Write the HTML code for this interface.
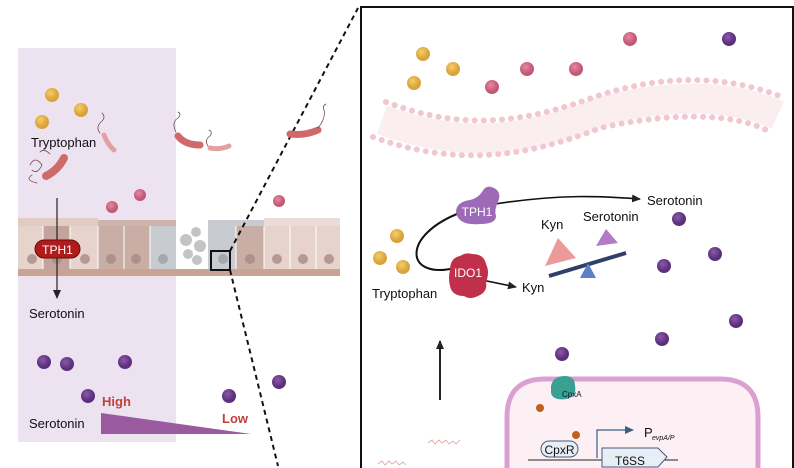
<!DOCTYPE html>
<html><head><meta charset="utf-8"><style>
html,body{margin:0;padding:0;background:#fff;width:794px;height:468px;overflow:hidden}
svg{display:block}
text{font-family:"Liberation Sans",sans-serif}
</style></head><body>
<svg width="794" height="468" viewBox="0 0 794 468">
<defs>
<radialGradient id="py" cx="40%" cy="35%"><stop offset="0" stop-color="#f4cf6a"/><stop offset="1" stop-color="#d9a23a"/></radialGradient>
<radialGradient id="pp" cx="40%" cy="35%"><stop offset="0" stop-color="#8a5aa8"/><stop offset="1" stop-color="#5b2f7c"/></radialGradient>
<radialGradient id="pk" cx="40%" cy="35%"><stop offset="0" stop-color="#e8889e"/><stop offset="1" stop-color="#c05878"/></radialGradient>
<marker id="ah" markerUnits="userSpaceOnUse" markerWidth="9" markerHeight="8" refX="8" refY="4" orient="auto"><path d="M0,0 L9,4 L0,8 z" fill="#222"/></marker>
<marker id="ahb" markerUnits="userSpaceOnUse" markerWidth="9" markerHeight="8" refX="8" refY="4" orient="auto"><path d="M0,0 L9,4 L0,8 z" fill="#3a5f86"/></marker>
</defs>
<rect x="18" y="48" width="158" height="394" fill="#ece2f0"/>
<g>
<rect x="18" y="226" width="322" height="44" fill="#e6d4cc"/>
<rect x="98" y="226" width="52" height="44" fill="#c9aea5"/>
<rect x="150" y="226" width="26" height="44" fill="#c8ccd0"/>
<rect x="176" y="226" width="32" height="44" fill="#fff"/>
<rect x="208" y="226" width="28" height="44" fill="#c8ccd0"/>
<rect x="236" y="226" width="28" height="44" fill="#c9aea5"/>
<rect x="43" y="226" width="27" height="44" fill="#c4a49a"/>
<g stroke="#fff" stroke-width="1"><line x1="43" y1="226" x2="43" y2="270"/><line x1="70" y1="226" x2="70" y2="270"/><line x1="98" y1="226" x2="98" y2="270"/><line x1="124" y1="226" x2="124" y2="270"/><line x1="150" y1="226" x2="150" y2="270"/><line x1="236" y1="226" x2="236" y2="270"/><line x1="264" y1="226" x2="264" y2="270"/><line x1="290" y1="226" x2="290" y2="270"/><line x1="316" y1="226" x2="316" y2="270"/></g>
<rect x="18" y="218" width="80" height="8" fill="#e0ccc4"/>
<rect x="98" y="220" width="78" height="6" fill="#cdb5ad"/>
<rect x="208" y="220" width="56" height="6" fill="#c8ccd0"/>
<rect x="264" y="218" width="76" height="8" fill="#eadcd6"/>
<g fill="#a88c84" opacity=".8"><circle cx="32" cy="259" r="5"/><circle cx="57" cy="259" r="5"/><circle cx="85" cy="259" r="5"/><circle cx="111" cy="259" r="5"/><circle cx="136" cy="259" r="5"/><circle cx="163" cy="259" r="5" fill="#9da0a4"/><circle cx="223" cy="259" r="5" fill="#9da0a4"/><circle cx="250" cy="259" r="5"/><circle cx="277" cy="259" r="5"/><circle cx="303" cy="259" r="5"/><circle cx="329" cy="259" r="5"/></g>
<g fill="#c2c4c6"><circle cx="186" cy="240" r="6"/><circle cx="196" cy="232" r="5"/><circle cx="200" cy="246" r="6"/><circle cx="188" cy="254" r="5"/><circle cx="197" cy="260" r="5"/></g>
<rect x="18" y="269" width="322" height="7" fill="#c9a394"/>
</g>
<rect x="211" y="251" width="19" height="19" fill="none" stroke="#111" stroke-width="2"/>
<line x1="230" y1="251" x2="358" y2="8" stroke="#111" stroke-width="2" stroke-dasharray="5,4"/>
<line x1="230" y1="270" x2="278" y2="466" stroke="#111" stroke-width="2" stroke-dasharray="5,4"/>
<circle cx="52" cy="95" r="7" fill="url(#py)"/><circle cx="81" cy="110" r="7" fill="url(#py)"/><circle cx="42" cy="122" r="7" fill="url(#py)"/>
<text x="31" y="147" font-size="13" fill="#111">Tryptophan</text>
<g fill="none" stroke-linecap="round">
<path d="M46,176 Q58,170 64,158" stroke="#d06a6a" stroke-width="8"/>
<path d="M104,135 Q108,145 114,150" stroke="#e4a0a0" stroke-width="5"/>
<path d="M178,136 Q185,145 200,145" stroke="#d06a6a" stroke-width="7"/>
<path d="M210,148 Q220,150 229,146" stroke="#e4a0a0" stroke-width="5"/>
<path d="M290,134 Q305,136 318,130" stroke="#d06a6a" stroke-width="7"/>
<g stroke="#6a3a3a" stroke-width=".7"><path d="M30,165 q5,-10 12,0 q-5,10 -10,5 M32,175 q-8,5 5,8 M40,152 q4,-4 10,2"/><path d="M100,133 q-5,-6 2,-12 q4,-4 0,-8"/><path d="M176,132 q-5,-10 2,-14 q4,-4 0,-6"/><path d="M208,146 q-4,-6 2,-10 q3,-4 -1,-6"/><path d="M318,128 q8,-10 6,-18 q-2,-4 2,-6"/></g>
</g>
<circle cx="140" cy="195" r="6" fill="url(#pk)"/><circle cx="112" cy="207" r="6" fill="url(#pk)"/><circle cx="279" cy="201" r="6" fill="url(#pk)"/>
<line x1="57" y1="198" x2="57" y2="298" stroke="#222" stroke-width="1.2" marker-end="url(#ah)"/>
<rect x="35" y="240" width="45" height="18" rx="9" fill="#b01c1c" stroke="#6a0a0a"/>
<text x="57.5" y="254" font-size="12" fill="#fff" text-anchor="middle">TPH1</text>
<text x="29" y="318" font-size="13" fill="#111">Serotonin</text>
<circle cx="44" cy="362" r="7" fill="url(#pp)"/><circle cx="67" cy="364" r="7" fill="url(#pp)"/><circle cx="125" cy="362" r="7" fill="url(#pp)"/><circle cx="88" cy="396" r="7" fill="url(#pp)"/><circle cx="229" cy="396" r="7" fill="url(#pp)"/><circle cx="279" cy="382" r="7" fill="url(#pp)"/>
<text x="102" y="406" font-size="13" font-weight="bold" fill="#c0403a">High</text>
<text x="222" y="423" font-size="13" font-weight="bold" fill="#c0403a">Low</text>
<text x="29" y="428" font-size="13" fill="#111">Serotonin</text>
<polygon points="101,413 101,434 251,434" fill="#9a5aa0"/>
<rect x="361" y="7" width="432" height="461" fill="#fff"/>
<path d="M361,468 V7 H793 V468" fill="none" stroke="#111" stroke-width="2"/>
<g stroke="#fbeef1" stroke-width="30" fill="none"><path d="M382,120 C460,148 520,143 600,112 C680,90 740,98 778,115"/></g>
<g fill="none" stroke-linecap="round" stroke-dasharray="0.1,9" stroke="#f2c8d0" stroke-width="6">
<path d="M386,102 C460,130 520,125 600,95 C680,70 740,80 785,98"/>
<path d="M373,137 C450,165 520,160 600,128 C680,110 740,115 770,132"/>
</g>
<circle cx="423" cy="54" r="7" fill="url(#py)"/><circle cx="453" cy="69" r="7" fill="url(#py)"/><circle cx="414" cy="83" r="7" fill="url(#py)"/>
<circle cx="492" cy="87" r="7" fill="url(#pk)"/><circle cx="527" cy="69" r="7" fill="url(#pk)"/><circle cx="576" cy="69" r="7" fill="url(#pk)"/><circle cx="630" cy="39" r="7" fill="url(#pk)"/><circle cx="729" cy="39" r="7" fill="url(#pp)"/>
<path d="M462,212 C400,235 405,280 455,268" fill="none" stroke="#111" stroke-width="2"/>
<path d="M495,204 C560,194 600,196 640,199" fill="none" stroke="#111" stroke-width="1.6" marker-end="url(#ah)"/>
<path d="M482,280 L516,287" fill="none" stroke="#111" stroke-width="1.6" marker-end="url(#ah)"/>
<path d="M456,212 q0,-10 14,-12 q8,-2 12,-8 q4,-8 12,-4 q8,4 4,14 q-4,8 -2,14 q0,8 -16,8 q-22,2 -24,-12z" fill="#9d6ab8"/>
<text x="477" y="216" font-size="12" fill="#fff" text-anchor="middle">TPH1</text>
<path d="M450,270 q0,-12 10,-14 q6,-4 12,-2 q12,0 14,10 q4,8 0,18 q2,10 -8,14 q-8,4 -14,0 q-12,0 -14,-10 q-2,-8 0,-16z" fill="#c0304a"/>
<text x="468" y="277" font-size="12" fill="#fff" text-anchor="middle">IDO1</text>
<text x="647" y="205" font-size="13" fill="#111">Serotonin</text>
<text x="522" y="292" font-size="13" fill="#111">Kyn</text>
<text x="372" y="298" font-size="13" fill="#111">Tryptophan</text>
<circle cx="397" cy="236" r="7" fill="url(#py)"/><circle cx="380" cy="258" r="7" fill="url(#py)"/><circle cx="403" cy="267" r="7" fill="url(#py)"/>
<text x="541" y="229" font-size="13" fill="#111">Kyn</text>
<text x="583" y="221" font-size="13" fill="#111">Serotonin</text>
<path d="M545,266 L558,238 L576,258 z" fill="#ec9a9a"/>
<polygon points="596,246 606,229 618,243" fill="#b07cc8"/>
<line x1="549" y1="276" x2="626" y2="253" stroke="#2f3f6a" stroke-width="4"/>
<polygon points="580,278 588,263 596,278" fill="#5b82c8"/>
<circle cx="679" cy="219" r="7" fill="url(#pp)"/><circle cx="664" cy="266" r="7" fill="url(#pp)"/><circle cx="715" cy="254" r="7" fill="url(#pp)"/><circle cx="736" cy="321" r="7" fill="url(#pp)"/><circle cx="662" cy="339" r="7" fill="url(#pp)"/><circle cx="562" cy="354" r="7" fill="url(#pp)"/>
<line x1="440" y1="400" x2="440" y2="341" stroke="#222" stroke-width="2" marker-end="url(#ah)"/>
<path d="M507,468 V417 Q507,379 545,379 H720 Q758,379 758,417 V468 Z" fill="#fcf0f4"/>
<path d="M507,468 V417 Q507,379 545,379 H720 Q758,379 758,417 V468" fill="none" stroke="#dca0d0" stroke-width="5"/>
<path d="M551,386 q2,-10 14,-10 q10,0 10,10 q2,10 -8,13 q-14,2 -16,-6z" fill="#3aa092"/>
<text x="562" y="397" font-size="8" fill="#113">CpxA</text>
<circle cx="540" cy="408" r="4" fill="#c06020"/>
<circle cx="576" cy="435" r="4" fill="#c06020"/>
<path d="M597,458 V430 H633" fill="none" stroke="#3a5f86" stroke-width="1.2" marker-end="url(#ahb)"/>
<text x="644" y="437" font-size="13" fill="#111">P</text><text x="652" y="440" font-size="7" font-style="italic" fill="#111">evpA/P</text>
<line x1="528" y1="460" x2="678" y2="460" stroke="#222"/>
<rect x="541" y="441" width="37" height="16" rx="8" fill="#e8eef6" stroke="#4a5a7a"/>
<text x="559.5" y="454" font-size="12" fill="#111" text-anchor="middle">CpxR</text>
<polygon points="602,448 658,448 667,457 658,467 602,467" fill="#e8eef6" stroke="#4a5a7a"/>
<text x="630" y="465" font-size="12" fill="#111" text-anchor="middle">T6SS</text>
<g fill="none" stroke="#e0a0a0" stroke-width=".8"><path d="M428,443 l4,-3 3,4 4,-4 3,3 4,-3 3,4 4,-3 3,3 4,-4"/><path d="M378,464 l4,-3 3,4 4,-4 3,3 4,-3 3,4 4,-3 3,3"/></g>
</svg>
</body></html>
